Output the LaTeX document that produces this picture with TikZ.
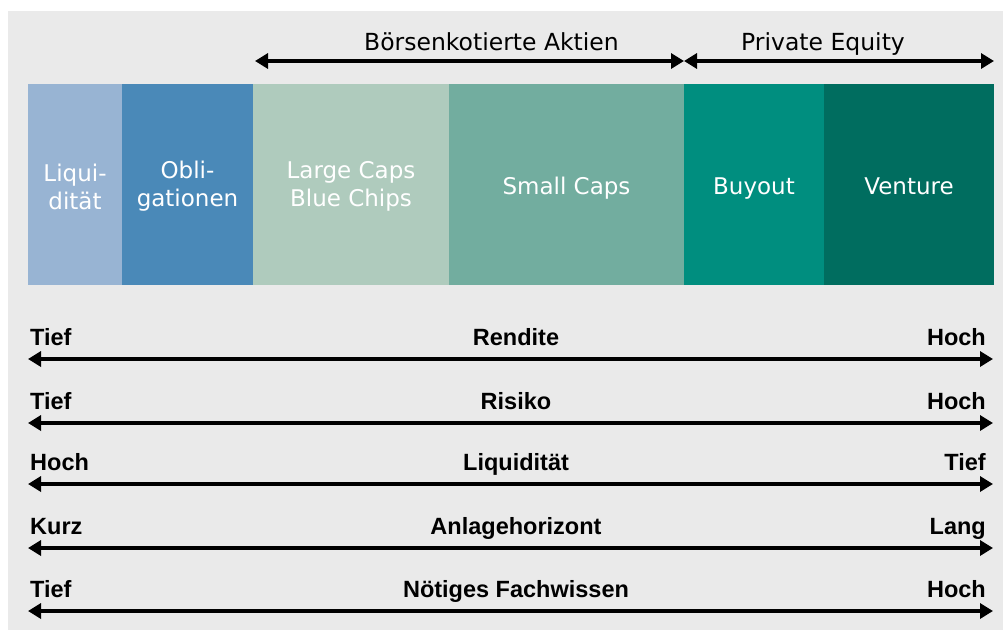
\documentclass[tikz,border=0pt]{standalone}
\usepackage{fontspec}
\setmainfont{DejaVu Sans}
\newfontfamily\axisfont{Liberation Sans}
\usetikzlibrary{arrows.meta}

\definecolor{panelgray}{HTML}{EAEAEA}
\definecolor{cashblue}{HTML}{98B4D3}
\definecolor{bondblue}{HTML}{4A89B8}
\definecolor{largegreen}{HTML}{AFCBBD}
\definecolor{smallgreen}{HTML}{72AD9F}
\definecolor{buyoutgreen}{HTML}{008E7F}
\definecolor{venturegreen}{HTML}{006D5F}

\begin{document}
\begin{tikzpicture}[x=1pt,y=-1pt,
  seg/.style={rectangle, inner sep=0pt, outer sep=0pt, minimum height=201pt},
  segtext/.style={inner sep=0pt, text=white, align=center,
    font=\fontsize{23}{28}\selectfont},
  oneline/.style={segtext, text height=17pt, text depth=5pt, yshift=-3.5pt},
  twoline/.style={segtext, yshift=-2pt},
  span/.style={line width=3.5pt, {Triangle[length=13pt,width=15pt]}-{Triangle[length=13pt,width=15pt]}},
  scalearrow/.style={line width=4pt, {Triangle[length=13pt,width=15pt]}-{Triangle[length=13pt,width=15pt]}},
  grouplabel/.style={inner sep=0pt, anchor=base, font=\fontsize{23.5}{27}\selectfont},
  axislabel/.style={inner sep=0pt, font=\axisfont\bfseries\fontsize{23.5}{27}\selectfont}
]
\useasboundingbox (0,0) rectangle (1003,630);
\fill[panelgray] (8,11) rectangle (1003,630);

% asset class segments
\node[seg, fill=cashblue,     minimum width=94pt]  (liq) at (75,184.5)    {};
\node[seg, fill=bondblue,     minimum width=131pt] (obl) at (187.5,184.5) {};
\node[seg, fill=largegreen,   minimum width=196pt] (lrg) at (351,184.5)   {};
\node[seg, fill=smallgreen,   minimum width=235pt] (sml) at (566.5,184.5) {};
\node[seg, fill=buyoutgreen,  minimum width=140pt] (buy) at (754,184.5)   {};
\node[seg, fill=venturegreen, minimum width=170pt] (ven) at (909,184.5)   {};

\node[twoline] (liqtext) at (liq.center) {Liqui-\\dität};
\node[twoline] (obltext) at (obl.center) {Obli-\\gationen};
\node[twoline] (lrgtext) at (lrg.center) {Large Caps\\Blue Chips};
\node[oneline] (smltext) at (sml.center) {Small Caps};
\node[oneline] (buytext) at (buy.center) {Buyout};
\node[oneline] (ventext) at (ven.center) {Venture};

% group spans above the segments
\coordinate (ba) at (255,61);
\coordinate (mid) at (684,61);
\coordinate (pe) at (994,61);
\draw[span] (ba) -- (mid);
\draw[span] (mid) -- (pe);
\node[grouplabel] (balabel) at (491.5,50) {Börsenkotierte Aktien};
\node[grouplabel] (pelabel) at (823,50) {Private Equity};

% characteristic scales
\foreach \yy/\lo/\what/\hi [count=\i] in
  {359/Tief/Rendite/Hoch,
   423/Tief/Risiko/Hoch,
   484/Hoch/Liquidität/Tief,
   548/Kurz/Anlagehorizont/Lang,
   611/Tief/Nötiges Fachwissen/Hoch}{
  \coordinate (l\i) at (28,\yy);
  \coordinate (r\i) at (993,\yy);
  \draw[scalearrow] (l\i) -- (r\i);
  \node[axislabel, anchor=base west] (lo\i) at (30,\yy-14) {\lo};
  \node[axislabel, anchor=base] (what\i) at (516,\yy-14) {\what};
  \node[axislabel, anchor=base east] (hi\i) at (986,\yy-14) {\hi};
}
\end{tikzpicture}
\end{document}
